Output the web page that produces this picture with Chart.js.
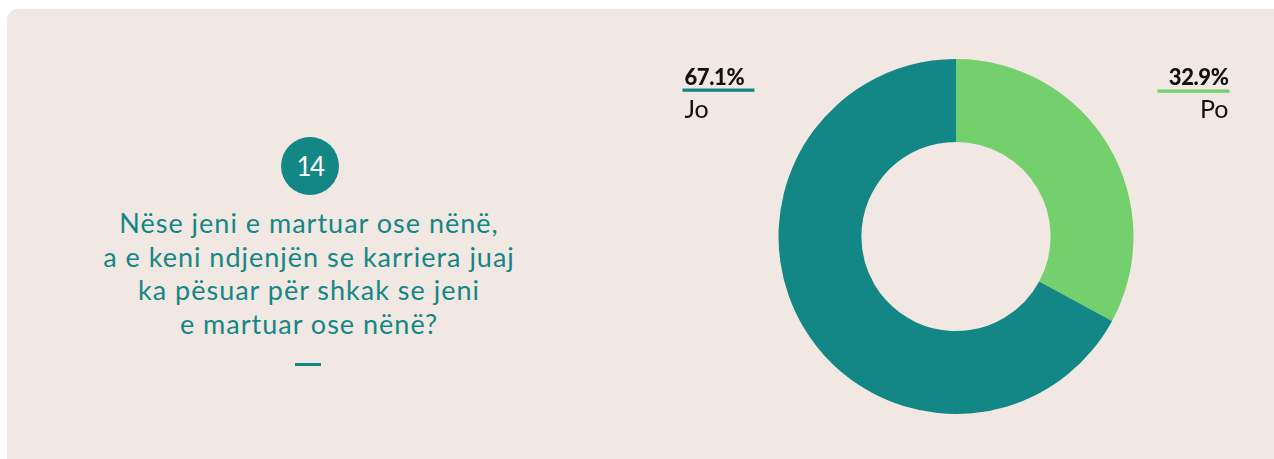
<!DOCTYPE html>
<html>
<head>
<meta charset="utf-8">
<script src="https://cdn.jsdelivr.net/npm/chart.js@4.4.1/dist/chart.umd.min.js"></script>
<style>
  body { margin: 0; background: #ffffff; width: 1274px; height: 459px; overflow: hidden; position: relative; font-family: Lato, "Noto Sans", sans-serif; }
  #panel { position: absolute; left: 7px; top: 9px; width: 1280px; height: 470px; background: #f1e8e3; border-top-left-radius: 11px; }
  #num { position: absolute; left: 281px; top: 137px; width: 58px; height: 58px; border-radius: 50%; background: #138785; color: #fff; font-size: 26px; font-weight: 400; letter-spacing: -1.5px; text-align: center; line-height: 58px; }
  #question { position: absolute; left: 34px; top: 206px; width: 550px; text-align: center; color: #138785; font-size: 27px; letter-spacing: 1px; line-height: 33.6px; }
  #dash { position: absolute; left: 295px; top: 363px; width: 26px; height: 3px; background: #138785; }
  #wrap { position: absolute; left: 640px; top: 50px; width: 632px; height: 373px; }
</style>
</head>
<body>
<div id="panel"></div>
<div id="num">14</div>
<div id="question">Nëse jeni e martuar ose nënë,<br>a e keni ndjenjën se karriera juaj<br>ka pësuar për shkak se jeni<br>e martuar ose nënë?</div>
<div id="dash"></div>
<div id="wrap"><canvas id="donut"></canvas></div>
<script>
const labels = ["Po", "Jo"];
const values = [32.9, 67.1];
const colors = ["#74cf6d", "#138785"];

// labels with a coloured underline, left/right of the ring
const sideLabels = {
  id: 'sideLabels',
  afterDraw(chart) {
    const ctx = chart.ctx;
    const arcs = chart.getDatasetMeta(0).data;
    const cx = arcs[0].x, cy = arcs[0].y, r = arcs[0].outerRadius;
    const top = cy - r;
    ctx.save();
    labels.forEach(function (lab, i) {
      const right = i === 0;
      const x = right ? cx + r + 95 : cx - r - 94;
      const pct = values[i].toFixed(1) + '%';
      ctx.textAlign = right ? 'right' : 'left';
      ctx.textBaseline = 'alphabetic';
      ctx.fillStyle = '#111';
      ctx.font = '900 22px Lato';
      ctx.letterSpacing = '-0.4px';
      ctx.fillText(pct, x, top + 26);
      ctx.fillStyle = colors[i];
      if (right) ctx.fillRect(x - 71, top + 30.5, 72, 3.3);
      else ctx.fillRect(x - 2, top + 29.5, 72, 3.3);
      ctx.letterSpacing = '0px';
      ctx.fillStyle = '#111';
      ctx.font = '25px Lato';
      ctx.fillText(lab, x, top + 59);
    });
    ctx.restore();
  }
};

new Chart(document.getElementById('donut').getContext('2d'), {
  type: 'doughnut',
  data: {
    labels: labels,
    datasets: [{
      data: values,
      backgroundColor: colors,
      borderWidth: 0
    }]
  },
  options: {
    responsive: true,
    maintainAspectRatio: false,
    animation: false,
    cutout: '53.3%',
    layout: { padding: 9 },
    plugins: {
      legend: { display: false },
      tooltip: { enabled: false }
    }
  },
  plugins: [sideLabels]
});
</script>
</body>
</html>
